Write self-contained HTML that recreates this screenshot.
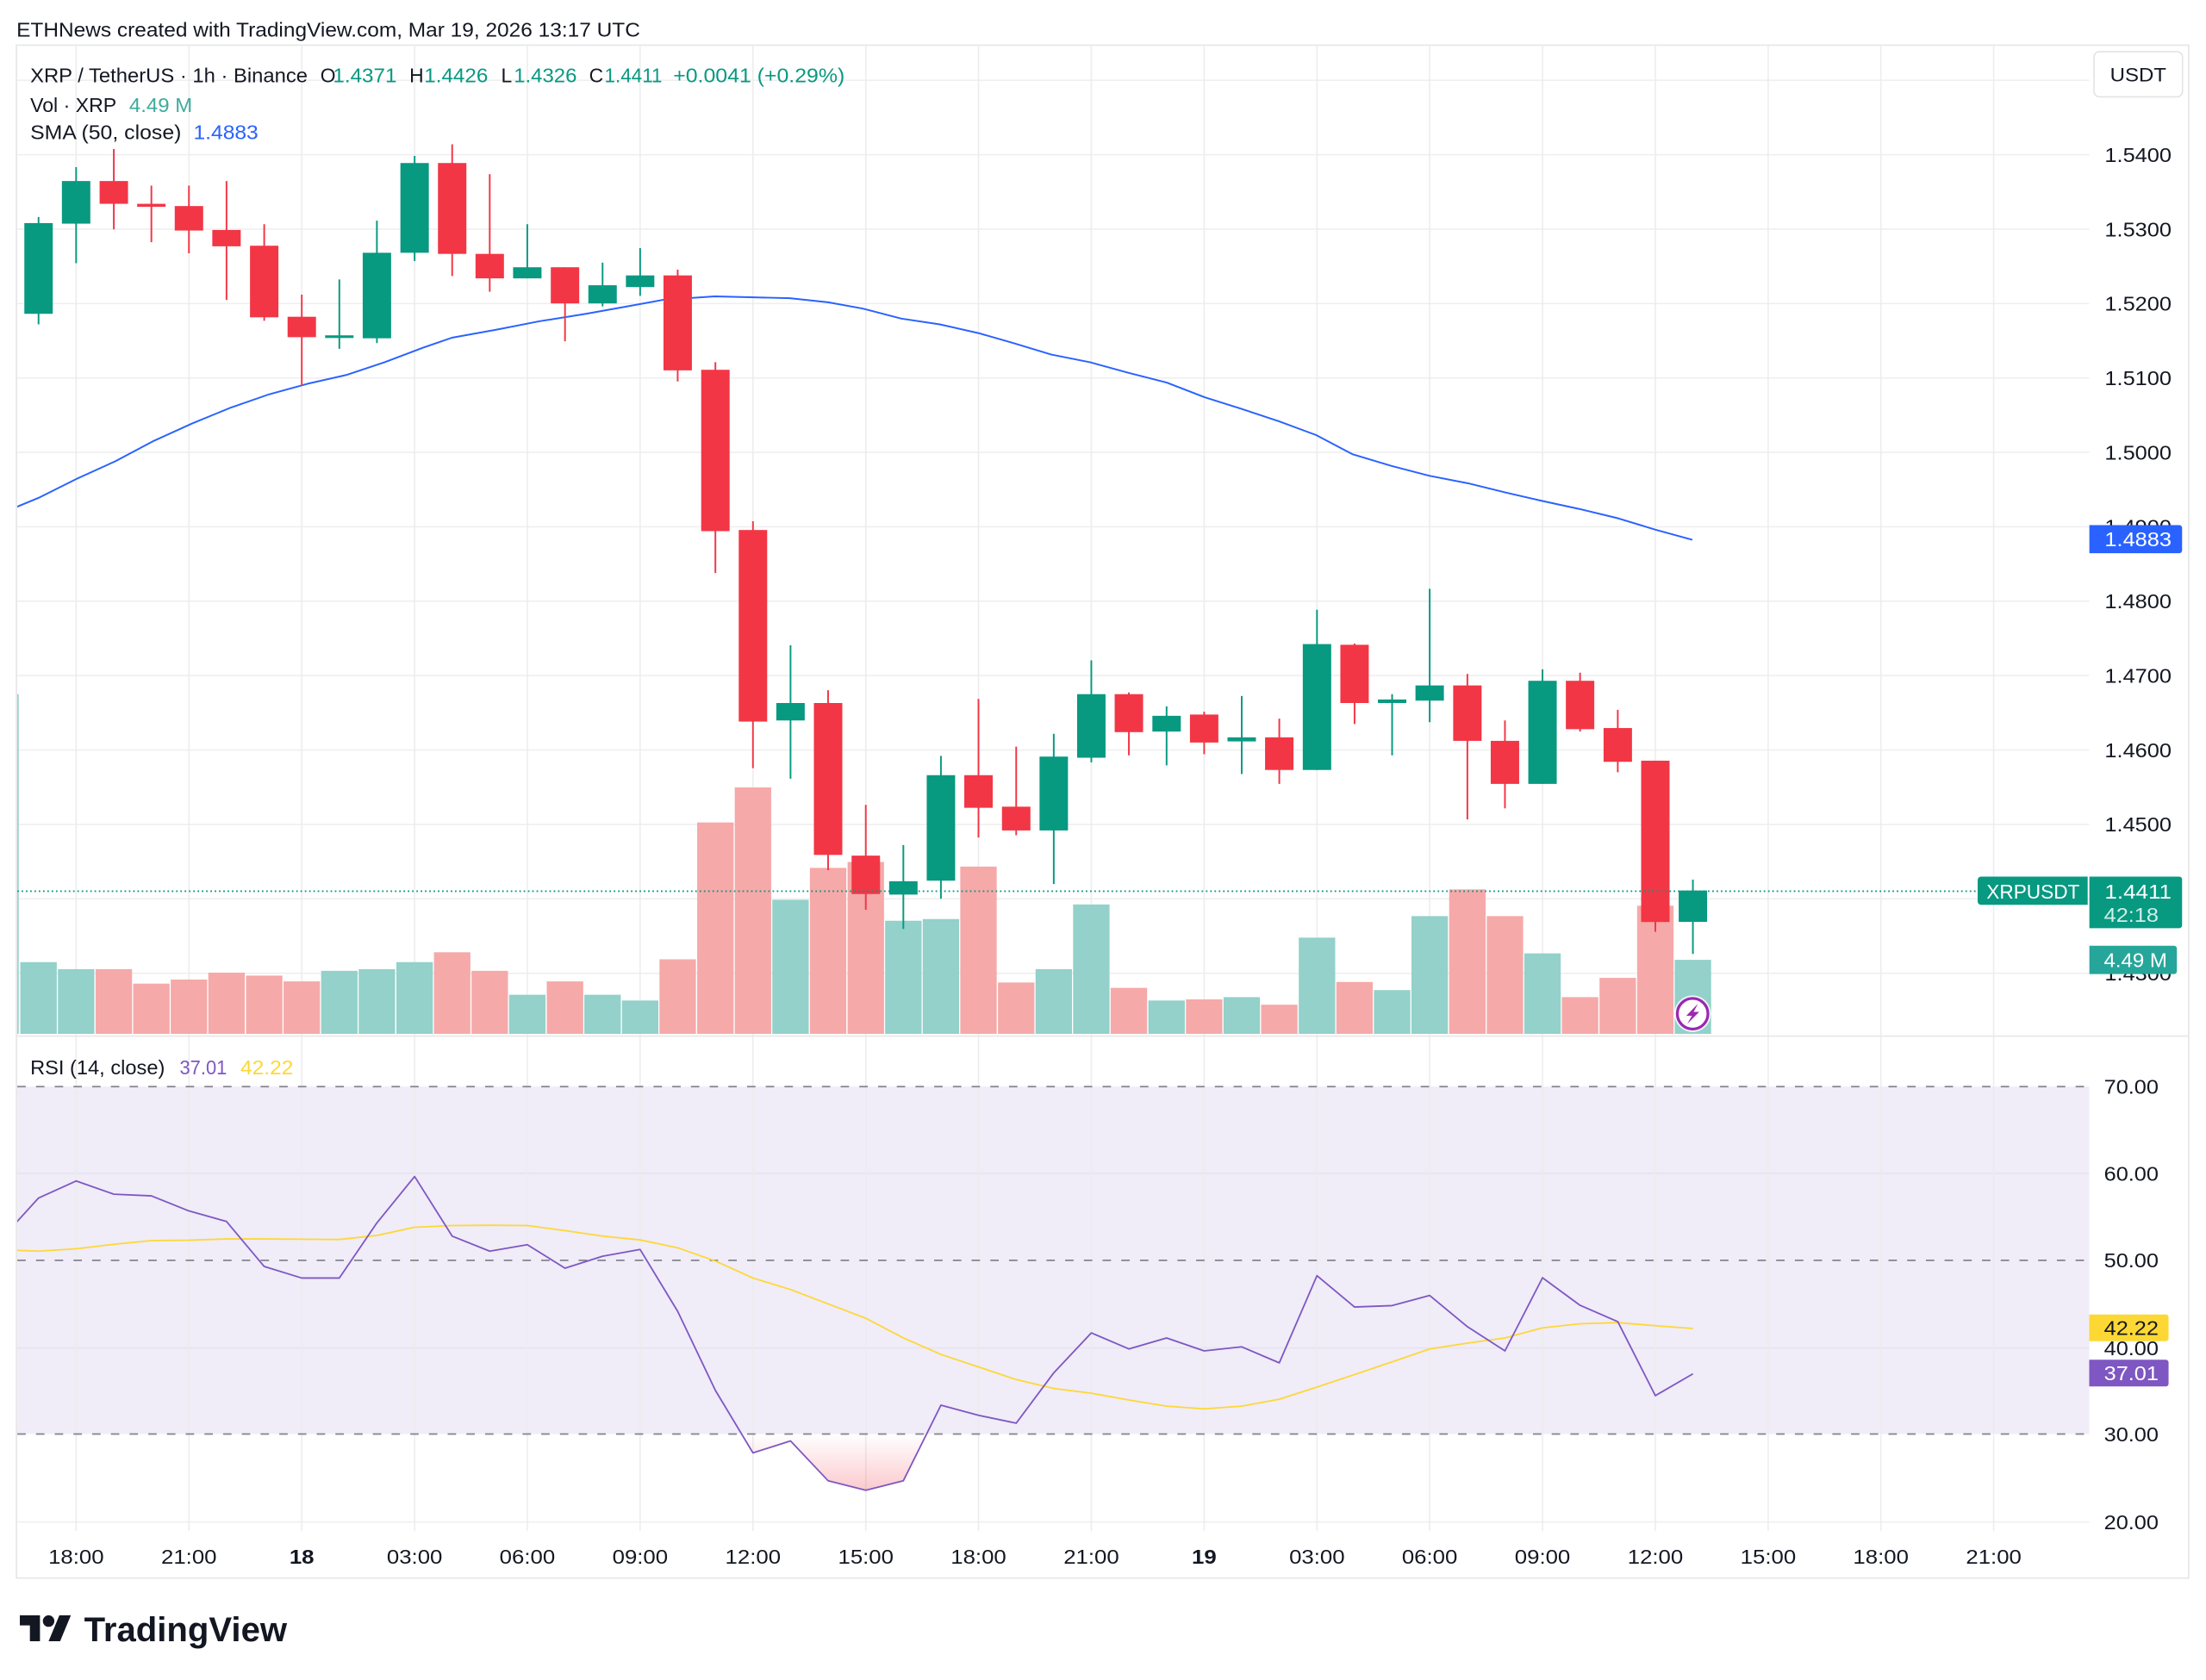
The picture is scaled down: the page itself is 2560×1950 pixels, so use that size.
<!DOCTYPE html>
<html>
<head>
<meta charset="utf-8">
<style>
html,body{margin:0;padding:0;background:#ffffff;}
svg{display:block;}
text{font-family:"Liberation Sans",Arial,sans-serif;}
</style>
</head>
<body>
<svg xmlns="http://www.w3.org/2000/svg" width="2560" height="1950" viewBox="0 0 1568 1194.375">
<defs>
  <clipPath id="cMain"><rect x="12.3" y="32.7" width="1472.7" height="703.5"/></clipPath>
  <clipPath id="cRsi"><rect x="12.3" y="737" width="1472.7" height="351.5"/></clipPath>
  <linearGradient id="gOS" gradientUnits="userSpaceOnUse" x1="0" y1="1019.5" x2="0" y2="1062">
    <stop offset="0" stop-color="#f23645" stop-opacity="0"/>
    <stop offset="1" stop-color="#f23645" stop-opacity="0.28"/>
  </linearGradient>
</defs>
<rect x="0" y="0" width="1568" height="1194.375" fill="#ffffff"/>

<!-- header -->
<text x="11.7" y="26.1" font-size="14" fill="#131722" textLength="443.3" lengthAdjust="spacingAndGlyphs">ETHNews created with TradingView.com, Mar 19, 2026 13:17 UTC</text>

<!-- RSI background band -->
<rect x="12.3" y="772.5" width="1472.7" height="247" fill="#f0ecf8"/>

<!-- horizontal gridlines main -->
<g stroke="#efefef" stroke-width="1">
  <line x1="12.3" y1="57.1" x2="1485" y2="57.1"/>
  <line x1="12.3" y1="110" x2="1485" y2="110"/>
  <line x1="12.3" y1="162.9" x2="1485" y2="162.9"/>
  <line x1="12.3" y1="215.8" x2="1485" y2="215.8"/>
  <line x1="12.3" y1="268.7" x2="1485" y2="268.7"/>
  <line x1="12.3" y1="321.6" x2="1485" y2="321.6"/>
  <line x1="12.3" y1="374.5" x2="1485" y2="374.5"/>
  <line x1="12.3" y1="427.4" x2="1485" y2="427.4"/>
  <line x1="12.3" y1="480.3" x2="1485" y2="480.3"/>
  <line x1="12.3" y1="533.2" x2="1485" y2="533.2"/>
  <line x1="12.3" y1="586.1" x2="1485" y2="586.1"/>
  <line x1="12.3" y1="639" x2="1485" y2="639"/>
  <line x1="12.3" y1="691.9" x2="1485" y2="691.9"/>
</g>
<g stroke="#e6e3ee" stroke-width="1">
  <line x1="12.3" y1="834.2" x2="1485" y2="834.2"/>
  <line x1="12.3" y1="958.3" x2="1485" y2="958.3"/>
</g>
<line x1="12.3" y1="1082" x2="1485" y2="1082" stroke="#efefef" stroke-width="1"/>

<!-- vertical gridlines -->
<g stroke="#ececec" stroke-width="1" opacity="0.9">
  <line x1="54.1" y1="32.7" x2="54.1" y2="1088.5"/>
  <line x1="134.3" y1="32.7" x2="134.3" y2="1088.5"/>
  <line x1="214.5" y1="32.7" x2="214.5" y2="1088.5"/>
  <line x1="294.7" y1="32.7" x2="294.7" y2="1088.5"/>
  <line x1="374.8" y1="32.7" x2="374.8" y2="1088.5"/>
  <line x1="455.0" y1="32.7" x2="455.0" y2="1088.5"/>
  <line x1="535.2" y1="32.7" x2="535.2" y2="1088.5"/>
  <line x1="615.4" y1="32.7" x2="615.4" y2="1088.5"/>
  <line x1="695.5" y1="32.7" x2="695.5" y2="1088.5"/>
  <line x1="775.7" y1="32.7" x2="775.7" y2="1088.5"/>
  <line x1="855.9" y1="32.7" x2="855.9" y2="1088.5"/>
  <line x1="936.1" y1="32.7" x2="936.1" y2="1088.5"/>
  <line x1="1016.2" y1="32.7" x2="1016.2" y2="1088.5"/>
  <line x1="1096.4" y1="32.7" x2="1096.4" y2="1088.5"/>
  <line x1="1176.6" y1="32.7" x2="1176.6" y2="1088.5"/>
  <line x1="1256.8" y1="32.7" x2="1256.8" y2="1088.5"/>
  <line x1="1336.9" y1="32.7" x2="1336.9" y2="1088.5"/>
  <line x1="1417.1" y1="32.7" x2="1417.1" y2="1088.5"/>
</g>

<!-- RSI dashed levels -->
<g stroke="#84838e" stroke-width="1.1" stroke-dasharray="6 7.3">
  <line x1="12.3" y1="772.5" x2="1485" y2="772.5"/>
  <line x1="12.3" y1="896" x2="1485" y2="896"/>
  <line x1="12.3" y1="1019.5" x2="1485" y2="1019.5"/>
</g>

<!-- frame -->
<rect x="11.7" y="32.1" width="1544" height="1089.8" fill="none" stroke="#e8e8e8" stroke-width="1.1"/>
<line x1="11.7" y1="736.6" x2="1555.7" y2="736.6" stroke="#e8e8e8" stroke-width="1.1"/>

<!-- MAIN PANE -->
<g clip-path="url(#cMain)">
  <!-- volume bars -->
  <g fill="#93d1ca">
    <rect x="12.2" y="493.5" width="1.1" height="241.5"/>
    <rect x="14.45" y="684.0" width="25.9" height="51.0"/>
    <rect x="41.15" y="689.0" width="25.9" height="46.0"/>
    <rect x="228.25" y="690.2" width="25.9" height="44.8"/>
    <rect x="254.95" y="689.0" width="25.9" height="46.0"/>
    <rect x="281.75" y="684.0" width="25.9" height="51.0"/>
    <rect x="361.85" y="707.2" width="25.9" height="27.8"/>
    <rect x="415.35" y="707.2" width="25.9" height="27.8"/>
    <rect x="442.05" y="711.3" width="25.9" height="23.7"/>
    <rect x="548.95" y="639.7" width="25.9" height="95.3"/>
    <rect x="629.15" y="654.6" width="25.9" height="80.4"/>
    <rect x="655.85" y="653.4" width="25.9" height="81.6"/>
    <rect x="736.05" y="689.0" width="25.9" height="46.0"/>
    <rect x="762.75" y="643.0" width="25.9" height="92.0"/>
    <rect x="816.25" y="711.3" width="25.9" height="23.7"/>
    <rect x="869.65" y="708.9" width="25.9" height="26.1"/>
    <rect x="923.15" y="666.6" width="25.9" height="68.4"/>
    <rect x="976.55" y="703.9" width="25.9" height="31.1"/>
    <rect x="1003.25" y="651.3" width="25.9" height="83.7"/>
    <rect x="1083.45" y="677.8" width="25.9" height="57.2"/>
    <rect x="1190.35" y="682.4" width="25.9" height="52.6"/>
  </g>
  <g fill="#f6a9a9">
    <rect x="67.95" y="689.0" width="25.9" height="46.0"/>
    <rect x="94.65" y="699.3" width="25.9" height="35.7"/>
    <rect x="121.35" y="696.4" width="25.9" height="38.6"/>
    <rect x="148.05" y="691.5" width="25.9" height="43.5"/>
    <rect x="174.85" y="693.6" width="25.9" height="41.4"/>
    <rect x="201.55" y="697.7" width="25.9" height="37.3"/>
    <rect x="308.45" y="677.0" width="25.9" height="58.0"/>
    <rect x="335.15" y="690.2" width="25.9" height="44.8"/>
    <rect x="388.65" y="697.7" width="25.9" height="37.3"/>
    <rect x="468.75" y="682.0" width="25.9" height="53.0"/>
    <rect x="495.55" y="584.7" width="25.9" height="150.3"/>
    <rect x="522.25" y="559.8" width="25.9" height="175.2"/>
    <rect x="575.65" y="617.0" width="25.9" height="118.0"/>
    <rect x="602.45" y="612.8" width="25.9" height="122.2"/>
    <rect x="682.55" y="616.1" width="25.9" height="118.9"/>
    <rect x="709.35" y="698.5" width="25.9" height="36.5"/>
    <rect x="789.45" y="702.3" width="25.9" height="32.7"/>
    <rect x="842.95" y="710.5" width="25.9" height="24.5"/>
    <rect x="896.35" y="714.3" width="25.9" height="20.7"/>
    <rect x="949.85" y="698.1" width="25.9" height="36.9"/>
    <rect x="1030.05" y="632.3" width="25.9" height="102.7"/>
    <rect x="1056.75" y="651.3" width="25.9" height="83.7"/>
    <rect x="1110.15" y="708.9" width="25.9" height="26.1"/>
    <rect x="1136.95" y="695.2" width="25.9" height="39.8"/>
    <rect x="1163.65" y="643.9" width="25.9" height="91.1"/>
  </g>

  <!-- SMA 50 -->
  <path d="M0.7,365 L12.3,360.2 L27.3,354.0 L54.7,340.3 L82.0,327.9 L109.4,313.4 L136.7,301.0 L164.0,289.8 L191.4,280.3 L218.7,272.8 L246.1,266.6 L273.4,257.5 L300.7,247.2 L321.2,240.1 L355.4,233.9 L382.8,228.5 L416.5,223.1 L443.8,218.2 L471.2,213.2 L508.1,210.7 L561.4,212.0 L588.7,214.9 L613.3,219.4 L640.7,226.5 L668.0,230.6 L695.4,236.8 L720.0,243.8 L747.3,252.1 L774.7,257.5 L802.0,265.0 L829.3,272.0 L856.2,282.4 L882.2,290.6 L909.6,299.7 L935.5,309.3 L961.5,323.0 L988.8,331.2 L1016.2,338.3 L1043.5,343.6 L1070.9,350.3 L1096.0,356.1 L1122.8,361.9 L1150.2,368.5 L1176.1,376.4 L1202.9,383.8" fill="none" stroke="#2962ff" stroke-width="1.2" stroke-linejoin="round"/>

  <!-- candles: wicks -->
  <g stroke="#089981" stroke-width="1.2">
    <line x1="27.4" y1="154.3" x2="27.4" y2="230.6"/>
    <line x1="54.1" y1="118.8" x2="54.1" y2="187.1"/>
    <line x1="241.2" y1="198.7" x2="241.2" y2="248.0"/>
    <line x1="267.9" y1="156.9" x2="267.9" y2="243.9"/>
    <line x1="294.7" y1="110.9" x2="294.7" y2="185.5"/>
    <line x1="374.8" y1="159.4" x2="374.8" y2="197.9"/>
    <line x1="428.3" y1="186.7" x2="428.3" y2="217.8"/>
    <line x1="455.0" y1="176.4" x2="455.0" y2="210.3"/>
    <line x1="561.9" y1="458.8" x2="561.9" y2="553.6"/>
    <line x1="642.1" y1="600.8" x2="642.1" y2="660.4"/>
    <line x1="668.8" y1="537.4" x2="668.8" y2="638.9"/>
    <line x1="749.0" y1="521.7" x2="749.0" y2="628.5"/>
    <line x1="775.7" y1="469.5" x2="775.7" y2="542.0"/>
    <line x1="829.2" y1="502.2" x2="829.2" y2="544.1"/>
    <line x1="882.6" y1="494.8" x2="882.6" y2="550.3"/>
    <line x1="936.1" y1="433.5" x2="936.1" y2="547.4"/>
    <line x1="989.5" y1="493.5" x2="989.5" y2="537.0"/>
    <line x1="1016.2" y1="418.6" x2="1016.2" y2="513.4"/>
    <line x1="1096.4" y1="475.8" x2="1096.4" y2="557.3"/>
    <line x1="1203.3" y1="625.4" x2="1203.3" y2="678.2"/>
  </g>
  <g stroke="#f23645" stroke-width="1.2">
    <line x1="80.9" y1="106.0" x2="80.9" y2="163.1"/>
    <line x1="107.6" y1="132.0" x2="107.6" y2="172.2"/>
    <line x1="134.3" y1="132.0" x2="134.3" y2="180.1"/>
    <line x1="161.0" y1="128.7" x2="161.0" y2="213.2"/>
    <line x1="187.8" y1="159.4" x2="187.8" y2="228.1"/>
    <line x1="214.5" y1="209.5" x2="214.5" y2="274.5"/>
    <line x1="321.4" y1="102.6" x2="321.4" y2="196.2"/>
    <line x1="348.1" y1="123.8" x2="348.1" y2="207.4"/>
    <line x1="401.6" y1="190.0" x2="401.6" y2="242.6"/>
    <line x1="481.7" y1="191.7" x2="481.7" y2="271.2"/>
    <line x1="508.5" y1="257.5" x2="508.5" y2="407.4"/>
    <line x1="535.2" y1="370.6" x2="535.2" y2="546.1"/>
    <line x1="588.6" y1="490.7" x2="588.6" y2="618.6"/>
    <line x1="615.4" y1="572.2" x2="615.4" y2="646.8"/>
    <line x1="695.5" y1="496.9" x2="695.5" y2="595.4"/>
    <line x1="722.3" y1="530.8" x2="722.3" y2="593.8"/>
    <line x1="802.4" y1="492.3" x2="802.4" y2="537.0"/>
    <line x1="855.9" y1="506.0" x2="855.9" y2="536.2"/>
    <line x1="909.3" y1="510.9" x2="909.3" y2="557.3"/>
    <line x1="962.8" y1="457.5" x2="962.8" y2="514.7"/>
    <line x1="1043.0" y1="479.1" x2="1043.0" y2="582.6"/>
    <line x1="1069.7" y1="512.2" x2="1069.7" y2="574.7"/>
    <line x1="1123.1" y1="478.2" x2="1123.1" y2="520.1"/>
    <line x1="1149.9" y1="504.7" x2="1149.9" y2="549.0"/>
    <line x1="1176.6" y1="540.8" x2="1176.6" y2="662.5"/>
  </g>
  <!-- candles: bodies -->
  <g fill="#089981">
    <rect x="17.3" y="158.6" width="20.2" height="64.5"/>
    <rect x="44.0" y="128.7" width="20.2" height="30.3"/>
    <rect x="231.1" y="238.4" width="20.2" height="1.9"/>
    <rect x="257.8" y="179.7" width="20.2" height="60.8"/>
    <rect x="284.6" y="115.9" width="20.2" height="63.8"/>
    <rect x="364.7" y="190.0" width="20.2" height="7.9"/>
    <rect x="418.2" y="202.8" width="20.2" height="12.9"/>
    <rect x="444.9" y="195.8" width="20.2" height="8.3"/>
    <rect x="551.8" y="499.8" width="20.2" height="12.4"/>
    <rect x="632.0" y="626.5" width="20.2" height="9.5"/>
    <rect x="658.7" y="551.1" width="20.2" height="75.0"/>
    <rect x="738.9" y="537.9" width="20.2" height="52.5"/>
    <rect x="765.6" y="493.5" width="20.2" height="45.2"/>
    <rect x="819.1" y="508.9" width="20.2" height="11.2"/>
    <rect x="872.5" y="524.2" width="20.2" height="2.9"/>
    <rect x="926.0" y="457.9" width="20.2" height="89.5"/>
    <rect x="979.4" y="497.3" width="20.2" height="2.5"/>
    <rect x="1006.1" y="487.3" width="20.2" height="10.8"/>
    <rect x="1086.3" y="484.0" width="20.2" height="73.3"/>
    <rect x="1193.2" y="633.1" width="20.2" height="22.3"/>
  </g>
  <g fill="#f23645">
    <rect x="70.8" y="128.7" width="20.2" height="16.2"/>
    <rect x="97.5" y="144.9" width="20.2" height="2.1"/>
    <rect x="124.2" y="146.5" width="20.2" height="17.4"/>
    <rect x="150.9" y="163.5" width="20.2" height="11.6"/>
    <rect x="177.7" y="174.7" width="20.2" height="50.9"/>
    <rect x="204.4" y="225.2" width="20.2" height="14.5"/>
    <rect x="311.3" y="115.9" width="20.2" height="64.6"/>
    <rect x="338.0" y="180.5" width="20.2" height="17.4"/>
    <rect x="391.5" y="190.0" width="20.2" height="25.7"/>
    <rect x="471.6" y="195.8" width="20.2" height="67.5"/>
    <rect x="498.4" y="262.9" width="20.2" height="114.7"/>
    <rect x="525.1" y="376.8" width="20.2" height="136.2"/>
    <rect x="578.5" y="499.8" width="20.2" height="108.0"/>
    <rect x="605.3" y="608.3" width="20.2" height="27.3"/>
    <rect x="685.4" y="551.1" width="20.2" height="23.2"/>
    <rect x="712.2" y="573.5" width="20.2" height="16.9"/>
    <rect x="792.3" y="493.5" width="20.2" height="27.0"/>
    <rect x="845.8" y="508.0" width="20.2" height="19.9"/>
    <rect x="899.2" y="524.2" width="20.2" height="23.2"/>
    <rect x="952.7" y="458.4" width="20.2" height="41.4"/>
    <rect x="1032.9" y="487.3" width="20.2" height="39.4"/>
    <rect x="1059.6" y="526.7" width="20.2" height="30.6"/>
    <rect x="1113.0" y="484.0" width="20.2" height="34.4"/>
    <rect x="1139.8" y="517.6" width="20.2" height="24.0"/>
    <rect x="1166.5" y="540.8" width="20.2" height="114.7"/>
  </g>

  <!-- current price dotted line -->
  <line x1="12.3" y1="633.6" x2="1405.7" y2="633.6" stroke="#089981" stroke-width="1.1" stroke-dasharray="1.1 1.95"/>

  <!-- lightning icon -->
  <circle cx="1203.1" cy="720.7" r="13" fill="#ffffff" fill-opacity="0.85"/>
  <circle cx="1203.1" cy="720.7" r="10.9" fill="#ffffff" stroke="#9c27b0" stroke-width="2"/>
  <path d="M1206.9,713.6 L1198.6,722.1 L1202.6,722.1 L1199.3,727.9 L1207.8,719.4 L1203.8,719.4 Z" fill="#9c27b0"/>
</g>

<!-- RSI PANE -->
<g clip-path="url(#cRsi)">
  <polygon points="527.1,1019.5 535.2,1032.9 561.9,1024.4 588.6,1052.7 615.4,1059.5 642.1,1052.7 658.6,1019.5" fill="url(#gOS)"/>
  <path d="M0.7,888.5 L27.4,889.5 L54.1,887.8 L80.9,884.6 L107.6,882.0 L134.3,881.7 L161.0,880.8 L187.8,880.8 L214.5,881.0 L241.2,881.2 L267.9,878.3 L294.7,872.5 L321.4,871.3 L348.1,871.1 L374.8,871.3 L401.6,874.9 L428.3,878.8 L455.0,881.5 L481.7,887.1 L508.5,896.5 L535.2,908.6 L561.9,916.8 L588.6,927.0 L615.4,937.2 L642.1,951.2 L668.8,962.9 L695.5,971.8 L722.3,980.8 L749.0,987.1 L775.7,990.5 L802.4,995.3 L829.2,999.7 L855.9,1001.6 L882.6,999.7 L909.3,994.8 L936.1,986.1 L962.8,977.2 L989.5,968.2 L1016.2,959.0 L1043.0,954.9 L1069.7,951.2 L1096.4,944.0 L1123.1,941.1 L1149.9,940.3 L1176.6,942.5 L1203.3,944.5" fill="none" stroke="#fdd835" stroke-width="1.1" stroke-linejoin="round"/>
  <path d="M0.7,881 L27.4,851.7 L54.1,839.6 L80.9,849.0 L107.6,850.2 L134.3,860.9 L161.0,868.4 L187.8,900.4 L214.5,908.6 L241.2,908.6 L267.9,869.4 L294.7,836.4 L321.4,878.8 L348.1,889.5 L374.8,884.9 L401.6,901.6 L428.3,893.1 L455.0,888.3 L481.7,932.3 L508.5,988.5 L535.2,1032.9 L561.9,1024.4 L588.6,1052.7 L615.4,1059.5 L642.1,1052.7 L668.8,999.0 L695.5,1006.2 L722.3,1011.8 L749.0,976.0 L775.7,947.6 L802.4,959.0 L829.2,951.2 L855.9,960.4 L882.6,957.5 L909.3,968.9 L936.1,906.9 L962.8,929.2 L989.5,928.2 L1016.2,921.0 L1043.0,943.2 L1069.7,960.4 L1096.4,908.4 L1123.1,928.0 L1149.9,939.6 L1176.6,992.2 L1203.3,976.7" fill="none" stroke="#7e57c2" stroke-width="1.1" stroke-linejoin="round"/>
</g>

<!-- Legends -->
<g font-size="14">
  <text x="21.5" y="58.6" fill="#131722" textLength="197.2" lengthAdjust="spacingAndGlyphs">XRP / TetherUS · 1h · Binance</text>
  <text x="227.7" y="58.6" fill="#131722">O</text>
  <text x="236.7" y="58.6" fill="#089981" textLength="45.3" lengthAdjust="spacingAndGlyphs">1.4371</text>
  <text x="291" y="58.6" fill="#131722">H</text>
  <text x="301.5" y="58.6" fill="#089981" textLength="45.4" lengthAdjust="spacingAndGlyphs">1.4426</text>
  <text x="356.2" y="58.6" fill="#131722">L</text>
  <text x="365.2" y="58.6" fill="#089981" textLength="44.8" lengthAdjust="spacingAndGlyphs">1.4326</text>
  <text x="418.7" y="58.6" fill="#131722">C</text>
  <text x="429.7" y="58.6" fill="#089981" textLength="41" lengthAdjust="spacingAndGlyphs">1.4411</text>
  <text x="478.5" y="58.6" fill="#089981" textLength="121.9" lengthAdjust="spacingAndGlyphs">+0.0041 (+0.29%)</text>

  <text x="21.5" y="79.6" fill="#131722" textLength="61.3" lengthAdjust="spacingAndGlyphs">Vol · XRP</text>
  <text x="91.8" y="79.6" fill="#3fab9d" textLength="44.9" lengthAdjust="spacingAndGlyphs">4.49 M</text>

  <text x="21.5" y="99" fill="#131722" textLength="107.4" lengthAdjust="spacingAndGlyphs">SMA (50, close)</text>
  <text x="137.5" y="99" fill="#2962ff" textLength="46.1" lengthAdjust="spacingAndGlyphs">1.4883</text>

  <text x="21.5" y="763.8" fill="#131722" textLength="95.7" lengthAdjust="spacingAndGlyphs">RSI (14, close)</text>
  <text x="127.7" y="763.8" fill="#7e57c2" textLength="33.6" lengthAdjust="spacingAndGlyphs">37.01</text>
  <text x="170.9" y="763.8" fill="#fdd835" textLength="37.6" lengthAdjust="spacingAndGlyphs">42.22</text>
</g>

<!-- price axis -->
<rect x="1488.4" y="36.7" width="62.9" height="32.2" rx="4" ry="4" fill="#ffffff" stroke="#e3e3e6" stroke-width="1"/>
<text x="1519.8" y="58" font-size="13.5" fill="#131722" text-anchor="middle" textLength="40" lengthAdjust="spacingAndGlyphs">USDT</text>
<g font-size="14" fill="#131722">
  <text x="1496" y="115.1" textLength="47.5" lengthAdjust="spacingAndGlyphs">1.5400</text>
  <text x="1496" y="168.0" textLength="47.5" lengthAdjust="spacingAndGlyphs">1.5300</text>
  <text x="1496" y="220.9" textLength="47.5" lengthAdjust="spacingAndGlyphs">1.5200</text>
  <text x="1496" y="273.8" textLength="47.5" lengthAdjust="spacingAndGlyphs">1.5100</text>
  <text x="1496" y="326.7" textLength="47.5" lengthAdjust="spacingAndGlyphs">1.5000</text>
  <text x="1496" y="379.6" textLength="47.5" lengthAdjust="spacingAndGlyphs">1.4900</text>
  <text x="1496" y="432.5" textLength="47.5" lengthAdjust="spacingAndGlyphs">1.4800</text>
  <text x="1496" y="485.4" textLength="47.5" lengthAdjust="spacingAndGlyphs">1.4700</text>
  <text x="1496" y="538.3" textLength="47.5" lengthAdjust="spacingAndGlyphs">1.4600</text>
  <text x="1496" y="591.2" textLength="47.5" lengthAdjust="spacingAndGlyphs">1.4500</text>
  <text x="1496" y="697.0" textLength="47.5" lengthAdjust="spacingAndGlyphs">1.4300</text>

  <text x="1495.5" y="777.6" textLength="38.8" lengthAdjust="spacingAndGlyphs">70.00</text>
  <text x="1495.5" y="839.3" textLength="38.8" lengthAdjust="spacingAndGlyphs">60.00</text>
  <text x="1495.5" y="901.1" textLength="38.8" lengthAdjust="spacingAndGlyphs">50.00</text>
  <text x="1495.5" y="963.4" textLength="38.8" lengthAdjust="spacingAndGlyphs">40.00</text>
  <text x="1495.5" y="1024.6" textLength="38.8" lengthAdjust="spacingAndGlyphs">30.00</text>
  <text x="1495.5" y="1087.1" textLength="38.8" lengthAdjust="spacingAndGlyphs">20.00</text>
</g>

<!-- axis value labels -->
<path d="M1485.1,373.3 H1549 a2,2 0 0 1 2,2 V391.3 a2,2 0 0 1 -2,2 H1485.1 Z" fill="#2962ff"/>
<text x="1496" y="388.4" font-size="14" fill="#ffffff" textLength="47.5" lengthAdjust="spacingAndGlyphs">1.4883</text>

<path d="M1408.2,623.2 H1483.9 V643.3 H1408.2 a2.5,2.5 0 0 1 -2.5,-2.5 V625.7 a2.5,2.5 0 0 1 2.5,-2.5 Z" fill="#089981"/>
<text x="1412" y="638.8" font-size="14" fill="#ffffff" textLength="66.2" lengthAdjust="spacingAndGlyphs">XRPUSDT</text>

<path d="M1485.1,623.2 H1549 a2,2 0 0 1 2,2 V657.9 a2,2 0 0 1 -2,2 H1485.1 Z" fill="#089981"/>
<text x="1496" y="638.8" font-size="14" fill="#ffffff" textLength="47.5" lengthAdjust="spacingAndGlyphs">1.4411</text>
<text x="1495.5" y="655.3" font-size="14" fill="#ffffff" fill-opacity="0.82" textLength="38.8" lengthAdjust="spacingAndGlyphs">42:18</text>

<path d="M1485.1,672.4 H1545.3 a2,2 0 0 1 2,2 V690.5 a2,2 0 0 1 -2,2 H1485.1 Z" fill="#26a69a"/>
<text x="1495.4" y="687.4" font-size="14" fill="#ffffff" textLength="45" lengthAdjust="spacingAndGlyphs">4.49 M</text>

<path d="M1485,934.5 H1539.4 a2,2 0 0 1 2,2 V951.5 a2,2 0 0 1 -2,2 H1485 Z" fill="#fdd835"/>
<text x="1495.5" y="949.1" font-size="14" fill="#131722" textLength="38.8" lengthAdjust="spacingAndGlyphs">42.22</text>

<path d="M1485,966.7 H1539.4 a2,2 0 0 1 2,2 V983.7 a2,2 0 0 1 -2,2 H1485 Z" fill="#7e57c2"/>
<text x="1495.5" y="981.3" font-size="14" fill="#ffffff" textLength="38.8" lengthAdjust="spacingAndGlyphs">37.01</text>

<!-- time axis -->
<g font-size="14" fill="#131722" text-anchor="middle">
  <text x="54.1" y="1111.7" textLength="39.5" lengthAdjust="spacingAndGlyphs">18:00</text>
  <text x="134.3" y="1111.7" textLength="39.5" lengthAdjust="spacingAndGlyphs">21:00</text>
  <text x="214.5" y="1111.7" font-weight="bold" textLength="17.6" lengthAdjust="spacingAndGlyphs">18</text>
  <text x="294.7" y="1111.7" textLength="39.5" lengthAdjust="spacingAndGlyphs">03:00</text>
  <text x="374.8" y="1111.7" textLength="39.5" lengthAdjust="spacingAndGlyphs">06:00</text>
  <text x="455.0" y="1111.7" textLength="39.5" lengthAdjust="spacingAndGlyphs">09:00</text>
  <text x="535.2" y="1111.7" textLength="39.5" lengthAdjust="spacingAndGlyphs">12:00</text>
  <text x="615.4" y="1111.7" textLength="39.5" lengthAdjust="spacingAndGlyphs">15:00</text>
  <text x="695.5" y="1111.7" textLength="39.5" lengthAdjust="spacingAndGlyphs">18:00</text>
  <text x="775.7" y="1111.7" textLength="39.5" lengthAdjust="spacingAndGlyphs">21:00</text>
  <text x="855.9" y="1111.7" font-weight="bold" textLength="17.6" lengthAdjust="spacingAndGlyphs">19</text>
  <text x="936.1" y="1111.7" textLength="39.5" lengthAdjust="spacingAndGlyphs">03:00</text>
  <text x="1016.2" y="1111.7" textLength="39.5" lengthAdjust="spacingAndGlyphs">06:00</text>
  <text x="1096.4" y="1111.7" textLength="39.5" lengthAdjust="spacingAndGlyphs">09:00</text>
  <text x="1176.6" y="1111.7" textLength="39.5" lengthAdjust="spacingAndGlyphs">12:00</text>
  <text x="1256.8" y="1111.7" textLength="39.5" lengthAdjust="spacingAndGlyphs">15:00</text>
  <text x="1336.9" y="1111.7" textLength="39.5" lengthAdjust="spacingAndGlyphs">18:00</text>
  <text x="1417.1" y="1111.7" textLength="39.5" lengthAdjust="spacingAndGlyphs">21:00</text>
</g>

<!-- TradingView logo -->
<g transform="translate(14.1,1144.3) scale(1.022)" fill="#131722">
  <path d="M14 22H7V11H0V4h14v18zM28 22h-8l7.5-18h8L28 22z"/>
  <circle cx="20" cy="8" r="4"/>
</g>
<text x="59.8" y="1166.8" font-size="24.5" font-weight="bold" fill="#131722" textLength="144.2" lengthAdjust="spacingAndGlyphs">TradingView</text>
</svg>
</body>
</html>
